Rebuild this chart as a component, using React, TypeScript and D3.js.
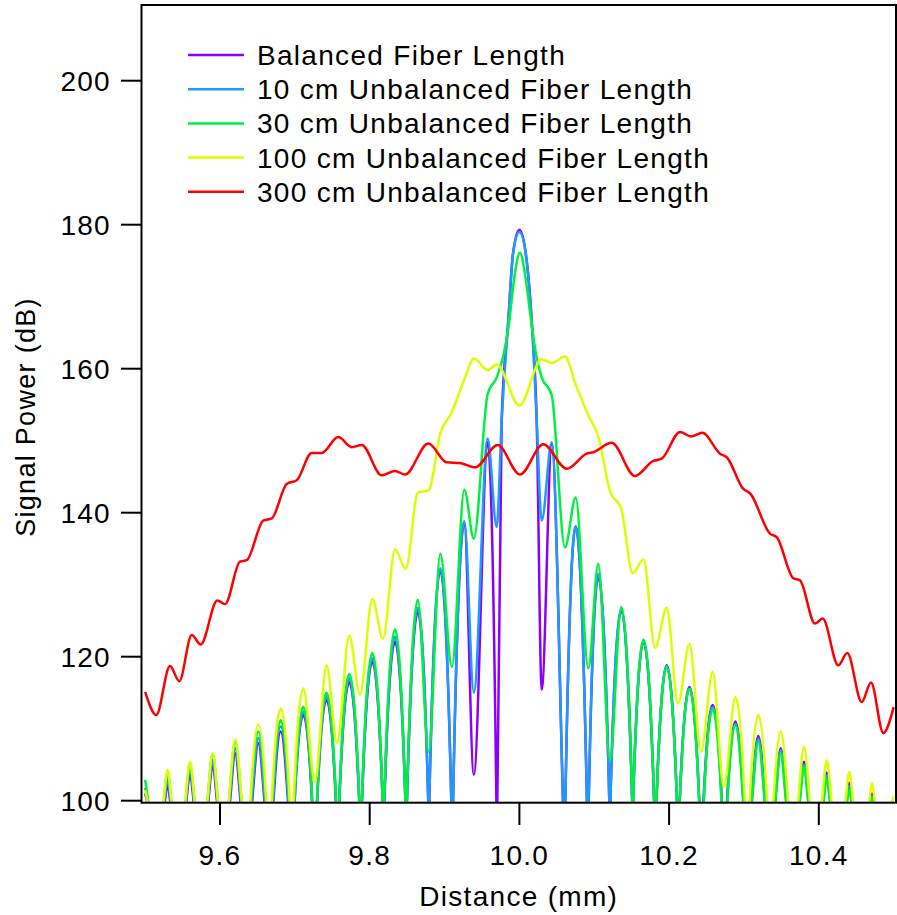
import React, { useEffect, useRef } from 'react'
import * as d3 from 'd3'

// distance (mm) of each side-lobe peak and of the nulls between them
const lobeDistance = [9.5, 9.5299, 9.5599, 9.5902, 9.6204, 9.6512, 9.6811, 9.7113, 9.7423, 9.7727, 9.8035, 9.8338, 9.8643, 9.8943, 9.9264, 9.9576, 10.0, 10.0432, 10.0752, 10.1054, 10.1361, 10.1658, 10.1968, 10.2272, 10.2582, 10.2884, 10.3192, 10.3491, 10.3802, 10.4106, 10.4407, 10.4711, 10.5]
const nullDistance = [9.5148, 9.5448, 9.575, 9.6053, 9.6358, 9.6661, 9.6962, 9.7268, 9.7563, 9.787, 9.8178, 9.8482, 9.8787, 9.9098, 9.9391, 9.9697, 10.0298, 10.0609, 10.0921, 10.121, 10.1514, 10.1813, 10.212, 10.2427, 10.2733, 10.3038, 10.3341, 10.3647, 10.3954, 10.4257, 10.456, 10.4858]

// Balanced
const balancedPeakDb = [101.0, 102.4, 103.8, 105.0, 106.6, 108.0, 109.6, 111.9, 114.0, 116.5, 119.3, 122.1, 126.2, 132.0, 138.5, 149.8, 179.3, 149.5, 138.1, 131.1, 126.5, 122.1, 118.8, 115.8, 113.3, 111.0, 109.0, 107.3, 105.4, 103.9, 102.5, 101.0, 98.0]
const balancedNullDb = [90, 90, 90, 90, 90, 90, 90, 90, 90, 90, 90, 90, 90, 90, 103.6, 90, 115.4, 90, 90, 90, 90, 90, 90, 90, 90, 90, 90, 90, 90, 90, 90, 90]
const balancedFloorWidth = [0.0048, 0.0069, 0.0096, 0.0115, 0.0139, 0.0163, 0.0195, 0.023, 0.0248, 0.0265, 0.0275, 0.0283, 0.0291, 0.0294, 0.03, 0.03, 0, 0.03, 0.03, 0.0294, 0.0291, 0.0283, 0.0274, 0.0261, 0.0243, 0.0219, 0.0182, 0.0152, 0.0123, 0.0099, 0.0072, 0.0048, 0]
const balancedCentre = [[9.9705, 100], [9.9763, 152.8], [9.9852, 166.7], [9.9915, 176.0], [10.0, 179.3], [10.0085, 176.0], [10.0164, 166.7], [10.0231, 152.8]]

// 10 cm
const tenCmPeakDb = [101.8, 103.1, 104.4, 105.7, 107.3, 108.7, 110.3, 112.4, 114.5, 117.0, 119.8, 122.8, 126.8, 132.3, 138.8, 150.3, 179.0, 149.8, 138.1, 131.5, 126.7, 122.2, 118.7, 115.6, 113.0, 110.7, 108.6, 107.0, 105.0, 103.5, 102.0, 100.6, 97.5]
const tenCmNullDb = [90, 90, 90, 90, 90, 90, 90, 90, 90, 90, 90, 90, 90, 90, 115.0, 138.0, 138.9, 90, 90, 90, 90, 90, 90, 90, 90, 90, 90, 90, 90, 90, 90, 90]
const tenCmFloorWidth = [0.0061, 0.0083, 0.0107, 0.0126, 0.0152, 0.0176, 0.0206, 0.0235, 0.0253, 0.0267, 0.0278, 0.0286, 0.0291, 0.0294, 0.03, 0.03, 0, 0.03, 0.03, 0.0294, 0.0291, 0.0283, 0.0274, 0.0259, 0.024, 0.0216, 0.0174, 0.0147, 0.0115, 0.0091, 0.0064, 0.0035, 0]
const tenCmCentre = [[9.9763, 152.8], [9.9852, 166.7], [9.9915, 176.0], [10.0, 179.0], [10.0085, 176.0], [10.0164, 166.7], [10.0231, 152.8]]

// 30 cm
const thirtyCmPeakDb = [102.9, 104.0, 105.2, 106.5, 108.2, 109.6, 111.2, 113.0, 115.0, 117.6, 120.5, 123.8, 127.9, 134.3, 143.2, 156.5, 176.1, 156.3, 142.1, 132.9, 126.9, 122.4, 118.6, 115.5, 112.7, 110.4, 108.2, 106.6, 104.7, 103.1, 101.5, 100.3, 97.0]
const thirtyCmNullDb = [90, 90, 90, 90, 90, 90, 90, 90, 90, 90, 90, 90, 106.8, 118.6, 136.4, 158.8, 158.8, 135.2, 118.4, 105.6, 90, 90, 90, 90, 90, 90, 90, 90, 90, 90, 90, 90]
const thirtyCmFloorWidth = [0.008, 0.0099, 0.0118, 0.0139, 0.0166, 0.0195, 0.0222, 0.024, 0.0257, 0.027, 0.0281, 0.0289, 0.0294, 0, 0, 0, 0, 0, 0, 0, 0.0294, 0.0286, 0.0274, 0.0259, 0.0235, 0.0208, 0.0166, 0.0139, 0.011, 0.0083, 0.0059, 0.0024, 0]
const thirtyCmCentre = [[9.979, 162.0], [9.9866, 166.7], [9.993, 172.5], [10.0007, 176.1], [10.0084, 172.5], [10.0156, 166.7], [10.0222, 162.0]]

// 100 cm
const hundredCmPeakDb = [101.5, 104.3, 105.4, 106.6, 108.5, 110.6, 112.8, 115.6, 118.8, 122.9, 128.0, 134.9, 142.8, 151.0, 158.5, 159.8, 154.9, 160.8, 157.8, 150.6, 140.5, 133.5, 126.8, 121.8, 117.9, 114.4, 111.9, 109.6, 107.5, 105.6, 104.0, 102.5, 100.6]
const hundredCmNullDb = [90, 90, 90, 90, 90, 90, 90, 102.6, 108.0, 114.7, 122.5, 132.2, 143.1, 154.0, 161.4, 160.6, 161.3, 161.7, 153.5, 143.0, 131.6, 121.2, 113.5, 106.8, 101.9, 90, 90, 90, 90, 90, 90, 90]
const hundredCmFloorWidth = [0.0059, 0.0104, 0.0123, 0.0139, 0.0171, 0.0211, 0.0238, 0.0259, 0, 0, 0, 0, 0, 0, 0, 0, 0, 0, 0, 0, 0, 0, 0, 0, 0, 0.0254, 0.023, 0.0195, 0.0155, 0.0126, 0.0099, 0.0072, 0.0035]
const hundredCmCentre = [[10.0, 154.9]]

// 300 cm
const threeHundredCm = [[9.5, 115.1], [9.5148, 111.9], [9.5332, 118.7], [9.5456, 116.6], [9.5622, 123.0], [9.5742, 121.7], [9.5964, 127.8], [9.6067, 127.3], [9.6267, 133.2], [9.6357, 133.4], [9.6578, 138.9], [9.6691, 139.2], [9.6891, 144.0], [9.7025, 144.5], [9.7225, 148.3], [9.7359, 148.3], [9.758, 150.5], [9.776, 149.1], [9.7893, 149.4], [9.816, 145.2], [9.8338, 145.8], [9.8472, 145.3], [9.8783, 149.6], [9.9029, 147.0], [9.9206, 146.9], [9.9407, 146.3], [9.971, 149.4], [10.0008, 145.3], [10.0319, 149.5], [10.0632, 146.1], [10.0899, 148.2], [10.0988, 148.4], [10.1233, 149.7], [10.1544, 145.1], [10.1789, 147.2], [10.1901, 147.5], [10.2146, 151.2], [10.2293, 150.6], [10.2444, 151.1], [10.268, 148.2], [10.277, 147.7], [10.2992, 143.3], [10.3081, 142.7], [10.3348, 137.1], [10.3438, 136.6], [10.3659, 130.9], [10.3749, 130.6], [10.3949, 124.6], [10.4052, 125.3], [10.426, 118.8], [10.4381, 120.5], [10.4573, 113.7], [10.4697, 116.4], [10.4862, 109.4], [10.5, 113.0]]

const seriesNames = ['Balanced Fiber Length', '10 cm Unbalanced Fiber Length', '30 cm Unbalanced Fiber Length', '100 cm Unbalanced Fiber Length', '300 cm Unbalanced Fiber Length']
const seriesColors = ['#8a00ff', '#1a9cff', '#00f040', '#dcff00', '#ff0000']

const xTicks = [9.6, 9.8, 10.0, 10.2, 10.4]
const yTicks = [100, 120, 140, 160, 180, 200]

const FONT = 'Liberation Sans, Arial, Helvetica, sans-serif'
const FLOOR = 100

// peaks + nulls -> point list; where a null sits below the axis the arch is
// pinned to the floor at its measured width
const buildTrace = (peaks, nulls, widths, centre) => {
    const pts = []
    lobeDistance.forEach((x, i) => {
        if (i > 0) pts.push([nullDistance[i - 1], nulls[i - 1]])
        if (i === 16) {
            centre.forEach(p => pts.push(p))
            return
        }
        const lowLeft = i > 0 && nulls[i - 1] < FLOOR
        const lowRight = i < nullDistance.length && nulls[i] < FLOOR
        const half = widths[i] / 2
        if (peaks[i] > FLOOR && lowLeft) pts.push([Math.max(x - half, nullDistance[i - 1] + 0.0005), FLOOR])
        pts.push([x, peaks[i]])
        if (peaks[i] > FLOOR && lowRight) pts.push([Math.min(x + half, nullDistance[i] - 0.0005), FLOOR])
    })
    return pts
}

const App = () => {
    const svgRef = useRef()

    useEffect(() => {
        const svg = d3.select(svgRef.current)
        svg.selectAll('*').remove()

        const frame = { left: 141.5, right: 896, top: 5, bottom: 802.7 }

        const xScale = d3.scaleLinear().domain([9.5, 10.5]).range([145.15, 893.65])
        const yScale = d3.scaleLinear().domain([100, 200]).range([800.7, 80.7])

        const traces = [
            buildTrace(balancedPeakDb, balancedNullDb, balancedFloorWidth, balancedCentre),
            buildTrace(tenCmPeakDb, tenCmNullDb, tenCmFloorWidth, tenCmCentre),
            buildTrace(thirtyCmPeakDb, thirtyCmNullDb, thirtyCmFloorWidth, thirtyCmCentre),
            buildTrace(hundredCmPeakDb, hundredCmNullDb, hundredCmFloorWidth, hundredCmCentre),
            threeHundredCm
        ]

        svg.append('rect').attr('width', 897).attr('height', 915).attr('fill', '#fff')

        svg.append('clipPath').attr('id', 'plot-clip')
            .append('rect')
            .attr('x', frame.left).attr('y', frame.top)
            .attr('width', frame.right - frame.left).attr('height', frame.bottom - frame.top)

        const line = d3.line()
            .x(d => xScale(d[0]))
            .y(d => yScale(d[1]))
            .curve(d3.curveMonotoneX)

        svg.append('g')
            .attr('clip-path', 'url(#plot-clip)')
            .selectAll('path')
            .data(traces)
            .join('path')
            .attr('d', d => line(d))
            .attr('fill', 'none')
            .attr('stroke', (d, i) => seriesColors[i])
            .attr('stroke-width', 2.5)
            .attr('stroke-linejoin', 'round')

        // frame + ticks
        svg.append('rect')
            .attr('x', frame.left).attr('y', frame.top)
            .attr('width', frame.right - frame.left).attr('height', frame.bottom - frame.top)
            .attr('fill', 'none').attr('stroke', '#000').attr('stroke-width', 2)

        const yAxis = svg.append('g')
        yAxis.selectAll('line').data(yTicks).join('line')
            .attr('x1', 121).attr('x2', frame.left)
            .attr('y1', d => yScale(d)).attr('y2', d => yScale(d))
            .attr('stroke', '#000').attr('stroke-width', 2)
        yAxis.selectAll('text').data(yTicks).join('text')
            .attr('x', 111).attr('y', d => yScale(d) + 10.5)
            .attr('text-anchor', 'end')
            .text(d => d)

        const xAxis = svg.append('g')
        xAxis.selectAll('line').data(xTicks).join('line')
            .attr('x1', d => xScale(d)).attr('x2', d => xScale(d))
            .attr('y1', frame.bottom).attr('y2', 825)
            .attr('stroke', '#000').attr('stroke-width', 2)
        xAxis.selectAll('text').data(xTicks).join('text')
            .attr('x', d => xScale(d)).attr('y', 865)
            .attr('text-anchor', 'middle')
            .text(d => d3.format('.1f')(d))

        svg.append('text')
            .attr('x', (frame.left + frame.right) / 2).attr('y', 906)
            .attr('text-anchor', 'middle')
            .text('Distance (mm)')

        svg.append('text')
            .attr('transform', 'translate(35,417) rotate(-90)')
            .attr('text-anchor', 'middle')
            .style('font-size', '27px')
            .text('Signal Power (dB)')

        // legend
        const legend = svg.append('g')
        seriesNames.forEach((name, i) => {
            const yRow = 55 + i * 34.2
            legend.append('line')
                .attr('x1', 188).attr('x2', 244)
                .attr('y1', yRow).attr('y2', yRow)
                .attr('stroke', seriesColors[i]).attr('stroke-width', 2.5)
            legend.append('text')
                .attr('x', 257).attr('y', yRow + 10)
                .text(name)
        })

        svg.selectAll('text')
            .attr('font-family', FONT)
            .attr('font-size', 28)
            .attr('letter-spacing', 1.3)
            .attr('fill', '#000')

    }, [])

    return (
        <svg ref={svgRef} width={897} height={915} style={{ position: 'absolute', left: 0, top: 0 }}>
        </svg>
    )
}

export default App
